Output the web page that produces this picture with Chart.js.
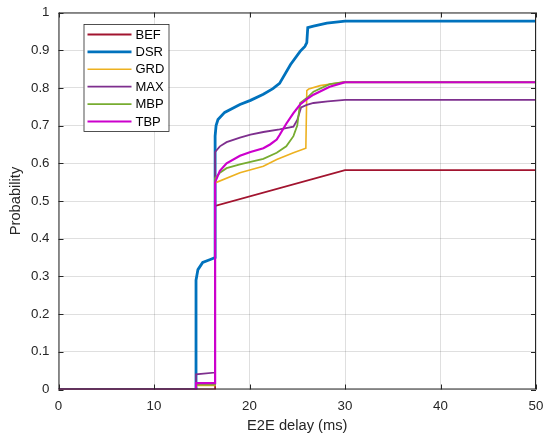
<!DOCTYPE html>
<html>
<head>
<meta charset="utf-8">
<script src="https://cdn.jsdelivr.net/npm/chart.js@4"></script>
<style>
  html, body { margin: 0; padding: 0; background: #fff; }
  #wrap { width: 544px; height: 439px; }
</style>
</head>
<body>
<div id="wrap"><canvas id="cdf" width="544" height="439"></canvas></div>
<script>
// delay CDF per scheme (x in ms, y = probability)
const seriesNames = ['BEF', 'DSR', 'GRD', 'MAX', 'MBP', 'TBP'];

const befX = [0, 16.4, 16.4, 30, 50];
const befY = [0, 0, 0.487, 0.582, 0.582];

const dsrX = [0, 14.4, 14.4, 14.6, 15.1, 15.9, 16.4, 16.4, 16.5, 16.7, 17.4, 19.0, 20.1, 21.45, 22.45, 23.15, 24.3, 25.3, 25.8, 26.0, 26.1, 26.7, 28.1, 30, 50];
const dsrY = [0, 0, 0.29, 0.318, 0.337, 0.345, 0.35, 0.672, 0.700, 0.716, 0.735, 0.756, 0.767, 0.783, 0.798, 0.812, 0.862, 0.897, 0.91, 0.92, 0.96, 0.964, 0.972, 0.977, 0.977];

const grdX = [0, 14.4, 14.4, 16.4, 16.4, 19.0, 21.45, 22.85, 24.6, 25.9, 26.0, 26.2, 27.4, 29.75, 30, 50];
const grdY = [0, 0, 0.011, 0.011, 0.548, 0.575, 0.592, 0.61, 0.628, 0.64, 0.793, 0.797, 0.806, 0.815, 0.815, 0.815];

const maxX = [0, 14.4, 14.4, 16.4, 16.4, 16.9, 17.6, 19.0, 20.1, 21.45, 23.15, 24.6, 25.0, 25.4, 26.0, 26.7, 28.2, 30, 50];
const maxY = [0, 0, 0.04, 0.045, 0.63, 0.645, 0.656, 0.668, 0.676, 0.683, 0.69, 0.697, 0.715, 0.748, 0.755, 0.76, 0.764, 0.768, 0.768];

const mbpX = [0, 14.4, 14.4, 16.4, 16.4, 16.9, 17.6, 19.0, 20.1, 21.45, 22.85, 23.85, 24.6, 25.0, 25.3, 26.0, 26.7, 28.4, 29.85, 30, 50];
const mbpY = [0, 0, 0.013, 0.013, 0.56, 0.575, 0.587, 0.597, 0.604, 0.612, 0.628, 0.645, 0.672, 0.70, 0.76, 0.773, 0.79, 0.81, 0.815, 0.815, 0.815];

const tbpX = [0, 14.4, 14.4, 16.4, 16.4, 16.9, 17.6, 19.0, 20.1, 21.45, 22.15, 22.85, 23.15, 23.85, 24.6, 25.3, 26.0, 26.7, 28.4, 29.85, 30, 50];
const tbpY = [0, 0, 0.017, 0.017, 0.55, 0.58, 0.60, 0.62, 0.63, 0.64, 0.65, 0.663, 0.675, 0.705, 0.733, 0.756, 0.77, 0.782, 0.803, 0.814, 0.815, 0.815];

const xTicks = [0, 10, 20, 30, 40, 50];
const yTicks = [0, 0.1, 0.2, 0.3, 0.4, 0.5, 0.6, 0.7, 0.8, 0.9, 1];

const colors = ['#A2142F', '#0072BD', '#EDB120', '#7E2F8E', '#77AC30', '#CC00CC'];
const widths = [1.8, 2.8, 1.6, 1.8, 1.8, 2.2];

const FONT = '"Liberation Sans", Arial, Helvetica, sans-serif';
const INK = '#262626';

function pts(xs, ys) {
  return xs.map((x, i) => ({ x: x, y: ys[i] }));
}

const allX = [befX, dsrX, grdX, maxX, mbpX, tbpX];
const allY = [befY, dsrY, grdY, maxY, mbpY, tbpY];

const datasets = seriesNames.map((name, i) => ({
  label: name,
  data: pts(allX[i], allY[i]),
  borderColor: colors[i],
  backgroundColor: colors[i],
  borderWidth: widths[i],
  showLine: true,
  pointRadius: 0,
  tension: 0,
  // later series sit on top
  order: seriesNames.length - i
}));

// axes box with inward ticks on all four sides
const boxPlugin = {
  id: 'box',
  afterDraw(chart) {
    const { ctx, chartArea: a, scales } = chart;
    ctx.save();
    ctx.strokeStyle = INK;
    ctx.lineWidth = 1;
    ctx.strokeRect(a.left + 0.5, a.top + 0.5, a.right - a.left - 1, a.bottom - a.top - 1);
    const len = 5;
    ctx.beginPath();
    xTicks.forEach(v => {
      const px = Math.round(scales.x.getPixelForValue(v)) + 0.5;
      ctx.moveTo(px, a.bottom); ctx.lineTo(px, a.bottom - len);
      ctx.moveTo(px, a.top); ctx.lineTo(px, a.top + len);
    });
    yTicks.forEach(v => {
      const py = Math.round(scales.y.getPixelForValue(v)) + 0.5;
      ctx.moveTo(a.left, py); ctx.lineTo(a.left + len, py);
      ctx.moveTo(a.right, py); ctx.lineTo(a.right - len, py);
    });
    ctx.stroke();
    ctx.restore();
  }
};

// boxed legend in the upper left corner of the plot
const legendPlugin = {
  id: 'boxLegend',
  afterDraw(chart) {
    const { ctx, chartArea: a } = chart;
    const x0 = a.left + 25, y0 = a.top + 11.5;
    const w = 85, h = 107, rowH = 17.4;
    ctx.save();
    ctx.fillStyle = '#fff';
    ctx.fillRect(x0, y0, w, h);
    ctx.strokeStyle = INK;
    ctx.lineWidth = 0.8;
    ctx.strokeRect(x0 + 0.5, y0 + 0.5, w, h);
    ctx.font = '13px ' + FONT;
    ctx.textBaseline = 'middle';
    chart.data.datasets.forEach((ds, i) => {
      const cy = y0 + 10.5 + i * rowH;
      ctx.strokeStyle = ds.borderColor;
      ctx.lineWidth = ds.borderWidth;
      ctx.beginPath();
      ctx.moveTo(x0 + 4, cy);
      ctx.lineTo(x0 + 48, cy);
      ctx.stroke();
      ctx.fillStyle = '#000';
      ctx.fillText(ds.label, x0 + 52, cy + 0.5);
    });
    ctx.restore();
  }
};

new Chart(document.getElementById('cdf'), {
  type: 'scatter',
  data: { datasets: datasets },
  options: {
    responsive: false,
    animation: false,
    layout: { padding: { top: 12.5, right: 8, left: 0, bottom: 0 } },
    plugins: {
      legend: { display: false },
      tooltip: { enabled: false }
    },
    scales: {
      x: {
        type: 'linear',
        min: 0,
        max: 50,
        afterFit(scale) {
          scale.height = 49.5;
          scale.paddingLeft = 0;
          scale.paddingRight = 0;
        },
        afterBuildTicks(scale) { scale.ticks = xTicks.map(v => ({ value: v })); },
        grid: { color: 'rgba(38,38,38,0.15)', drawTicks: false },
        border: { display: false },
        ticks: {
          padding: 9,
          color: INK,
          font: { family: FONT, size: 13.3 },
          maxRotation: 0
        },
        title: {
          display: true,
          text: 'E2E delay (ms)',
          color: INK,
          font: { family: FONT, size: 14.7 },
          padding: { top: 2, bottom: 4 }
        }
      },
      y: {
        type: 'linear',
        min: 0,
        max: 1,
        afterFit(scale) {
          scale.width = 58.5;
          scale.paddingTop = 0;
          scale.paddingBottom = 0;
        },
        afterBuildTicks(scale) { scale.ticks = yTicks.map(v => ({ value: v })); },
        grid: { color: 'rgba(38,38,38,0.15)', drawTicks: false },
        border: { display: false },
        ticks: {
          padding: 9,
          color: INK,
          font: { family: FONT, size: 13.3 },
          callback: v => String(Math.round(v * 10) / 10)
        },
        title: {
          display: true,
          text: 'Probability',
          color: INK,
          font: { family: FONT, size: 14.7 },
          padding: { top: 7, bottom: 0 }
        }
      }
    }
  },
  plugins: [boxPlugin, legendPlugin]
});
</script>
</body>
</html>
